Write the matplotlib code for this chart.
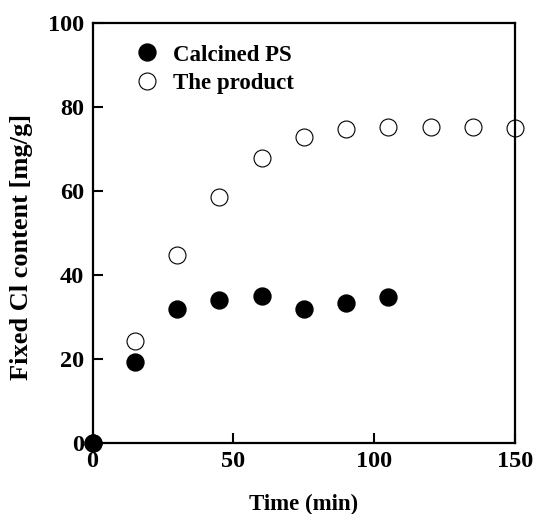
import matplotlib
matplotlib.use("Agg")
import matplotlib.pyplot as plt

plt.rcParams['font.family'] = ['Liberation Serif', 'DejaVu Serif']
plt.rcParams['font.weight'] = 'bold'

time_calcined = [0, 15, 30, 45, 60, 75, 90, 105]
cl_calcined = [0, 19.1, 31.8, 34.0, 35.0, 31.8, 33.3, 34.6]
time_product = [0, 15, 30, 45, 60, 75, 90, 105, 120, 135, 150]
cl_product = [0, 24.3, 44.7, 58.5, 67.9, 72.7, 74.8, 75.2, 75.2, 75.1, 75.0]
x_ticks = [0, 50, 100, 150]
y_ticks = [0, 20, 40, 60, 80, 100]

fig = plt.figure(figsize=(5.33, 5.14), dpi=100)
ax = fig.add_axes([92.5/533, 1-442.7/514, 422.5/533, 420/514])

ax.plot(time_product, cl_product, linestyle='none', marker='o', markersize=12.2,
        markerfacecolor='white', markeredgecolor='black', markeredgewidth=0.8,
        clip_on=False, zorder=3, label='The product')
ax.plot(time_calcined, cl_calcined, linestyle='none', marker='o', markersize=12.2,
        markerfacecolor='black', markeredgecolor='black',
        clip_on=False, zorder=4, label='Calcined PS')

ax.set_xlim(0, 150)
ax.set_ylim(0, 100)
ax.set_xticks(x_ticks)
ax.set_yticks(y_ticks)
ax.tick_params(direction='in', length=7, width=1.5, labelsize=17.5, pad=6,
               top=False, right=False)
for s in ax.spines.values():
    s.set_linewidth(1.6)
    s.set_zorder(3.5)

ax.set_xlabel('Time (min)', fontsize=16.5, fontweight='bold', labelpad=16)
ax.set_ylabel('Fixed Cl content [mg/g]', fontsize=19, fontweight='bold')
ax.yaxis.set_label_coords(-0.142, 0.465)

h, l = ax.get_legend_handles_labels()
leg = ax.legend(h[::-1], l[::-1], loc='upper left', bbox_to_anchor=(0.079, 0.97),
                frameon=False, fontsize=16.5, handletextpad=0.65, labelspacing=0.32,
                handlelength=1.0, borderaxespad=0)
for t in leg.get_texts():
    t.set_fontweight('bold')

fig.savefig('out.png', dpi=100)
